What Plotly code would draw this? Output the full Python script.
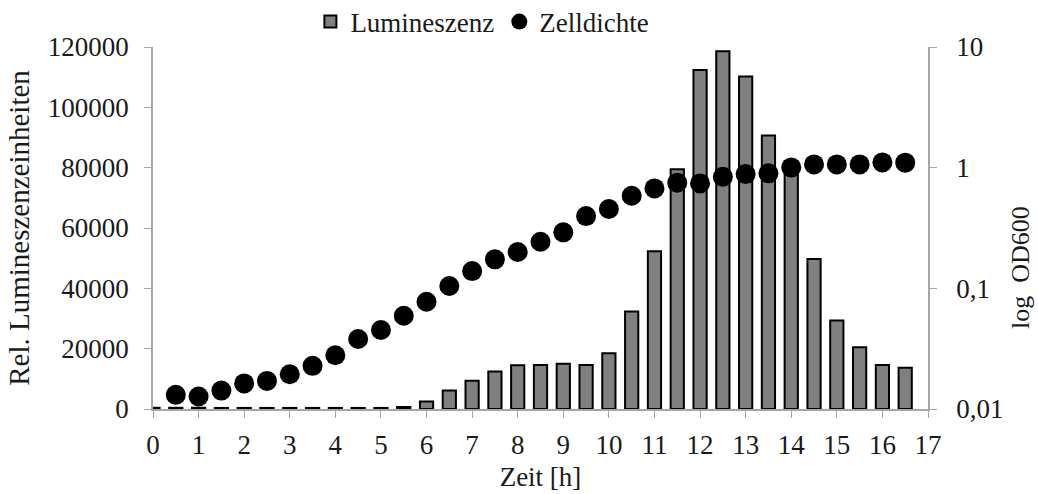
import plotly.graph_objects as go

# Sampling times (h)
bar_times = [0, 0.5, 1, 1.5, 2, 2.5, 3, 3.5, 4, 4.5, 5, 5.5, 6, 6.5, 7, 7.5, 8,
             8.5, 9, 9.5, 10, 10.5, 11, 11.5, 12, 12.5, 13, 13.5, 14, 14.5, 15,
             15.5, 16, 16.5]
# Relative luminescence units
luminescence = [400, 400, 400, 350, 350, 350, 350, 350, 350, 350, 350, 700,
                2500, 6100, 9400, 12400, 14500, 14600, 15000, 14600, 18500,
                32300, 52300, 79500, 112400, 118600, 110200, 90700, 79500,
                49700, 29300, 20500, 14600, 13700]

od_times = [0.5, 1, 1.5, 2, 2.5, 3, 3.5, 4, 4.5, 5, 5.5, 6, 6.5, 7, 7.5, 8,
            8.5, 9, 9.5, 10, 10.5, 11, 11.5, 12, 12.5, 13, 13.5, 14, 14.5, 15,
            15.5, 16, 16.5]
# Cell density (OD600)
od600 = [0.0131, 0.0127, 0.0142, 0.0163, 0.0171, 0.0194, 0.0228, 0.0279,
         0.038, 0.0452, 0.0593, 0.0774, 0.1045, 0.139, 0.174, 0.200, 0.243,
         0.291, 0.397, 0.454, 0.585, 0.673, 0.750, 0.741, 0.841, 0.885,
         0.897, 1.005, 1.064, 1.064, 1.064, 1.106, 1.10]

x_ticks = list(range(0, 18))
y_ticks = [0, 20000, 40000, 60000, 80000, 100000, 120000]
y_labels = ["0", "20000", "40000", "60000", "80000", "100000", "120000"]
y2_ticks = [0.01, 0.1, 1, 10]
y2_labels = ["0,01", "0,1", "1", "10"]

FONT = "Liberation Serif"
TEXT_COLOR = "#1a1a1a"
AXIS_COLOR = "#a6a6a6"
tick_font = dict(family=FONT, size=27, color=TEXT_COLOR)

fig = go.Figure()
fig.add_trace(go.Bar(
    x=bar_times, y=luminescence, name="Lumineszenz", width=0.29,
    marker=dict(color="#808080", line=dict(color="black", width=2)),
    yaxis="y",
))
fig.add_trace(go.Scatter(
    x=od_times, y=od600, name="Zelldichte", mode="markers",
    marker=dict(color="black", size=20),
    yaxis="y2",
))

fig.update_layout(
    width=1038, height=494,
    margin=dict(l=153, r=110, t=47, b=85, autoexpand=False),
    paper_bgcolor="white", plot_bgcolor="white",
    font=dict(family=FONT, size=27, color=TEXT_COLOR),
    showlegend=True,
    legend=dict(orientation="h", x=0.425, y=1.069, xanchor="center",
                yanchor="middle", font=dict(family=FONT, size=27,
                                            color=TEXT_COLOR),
                itemwidth=30, tracegroupgap=0, bgcolor="rgba(0,0,0,0)"),
    xaxis=dict(range=[0, 17], tickvals=x_ticks, ticks="outside", ticklen=7,
               tickcolor=AXIS_COLOR, showline=True, linecolor=AXIS_COLOR,
               linewidth=1.5, showgrid=False, zeroline=False,
               tickfont=tick_font, ticklabelstandoff=4,
               title=dict(text="Zeit [h]", standoff=8,
                          font=dict(family=FONT, size=27, color=TEXT_COLOR))),
    yaxis=dict(range=[0, 120000], tickvals=y_ticks, ticktext=y_labels,
               ticks="outside", ticklen=7, tickcolor=AXIS_COLOR,
               showline=True, linecolor=AXIS_COLOR, linewidth=1.5,
               showgrid=False, zeroline=False, tickfont=tick_font,
               ticklabelstandoff=10,
               title=dict(text="Rel. Lumineszenzeinheiten", standoff=10,
                          font=dict(family=FONT, size=29, color=TEXT_COLOR))),
    yaxis2=dict(type="log", range=[-2, 1], overlaying="y", side="right",
                tickvals=y2_ticks, ticktext=y2_labels, ticks="outside",
                ticklen=7, tickcolor=AXIS_COLOR, showline=True,
                linecolor=AXIS_COLOR, linewidth=1.5, showgrid=False,
                zeroline=False, tickfont=tick_font, ticklabelstandoff=14),
)

# Right-hand axis title, set lower than centre
fig.add_annotation(
    text="log  OD600", textangle=-90, xref="paper", yref="paper",
    x=1.1187, y=0.392, xanchor="center", yanchor="middle", showarrow=False,
    font=dict(family=FONT, size=26, color=TEXT_COLOR),
)

fig.write_html("out.html")
